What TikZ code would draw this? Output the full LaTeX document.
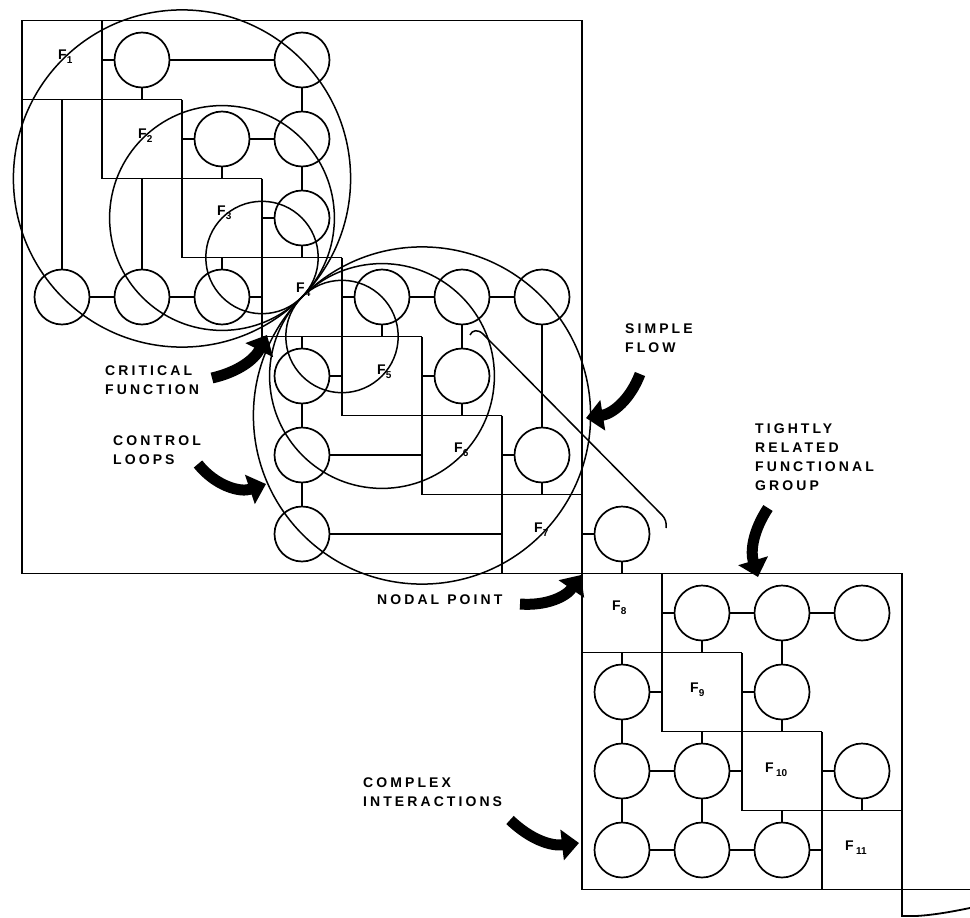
\documentclass[tikz,border=0pt]{standalone}
\usepackage{fontspec}
\newfontfamily\lblfont{Liberation Sans}[LetterSpace=22]
\newfontfamily\ffont{Liberation Sans}
\usetikzlibrary{arrows.meta,calc}
\newcommand{\fsub}[1]{\raisebox{-4pt}{\fontsize{10}{10}\selectfont #1}}
\begin{document}
\begin{tikzpicture}[x=1pt,y=-1pt,
  ln/.style={line width=1.8pt},
  cnode/.style={circle,draw,line width=1.7pt,minimum size=55pt,inner sep=0pt},
  loopc/.style={line width=1.5pt},
  lbl/.style={font=\lblfont\bfseries\fontsize{14}{19}\selectfont, align=left, anchor=north west, inner sep=0pt},
  flab/.style={font=\ffont\bfseries\fontsize{14}{14}\selectfont, anchor=west, inner sep=0pt},
  fat/.style={line width=11pt, -{Triangle[length=17pt,width=30pt]}},
]
\useasboundingbox (0,0) rectangle (970,918);
\fill[white] (0,0) rectangle (970,918);

% grid boundary coordinates
\foreach \k in {1,...,12} {
  \coordinate (X\k) at ({22+80*(\k-1)},0);
  \coordinate (Y\k) at (0,{20.5+79*(\k-1)});
}

% outer boxes
\draw[ln] (22,20.5) rectangle (582,573.5);
\draw[ln] (582,573.5) rectangle (902,889.5);
% continuation at bottom right
\draw[ln] (902,889.5) -- (970,889.5);
\draw[ln] (902,889.5) -- (902,916) -- (916,916) .. controls (935,915) and (955,911) .. (970,908);

% staircase of function blocks
\foreach \k in {1,...,10} {
  \draw[ln] ({22+80*\k},{20.5+79*(\k-1)}) -- ({22+80*\k},{20.5+79*(\k+1)});
  \draw[ln] ({22+80*(\k-1)},{20.5+79*\k}) -- ({22+80*(\k+1)},{20.5+79*\k});
}

% circles
\foreach \i/\j in {2/1,4/1,3/2,4/2,4/3,1/4,2/4,3/4,5/4,6/4,7/4,4/5,6/5,4/6,7/6,4/7,8/7,
                   9/8,10/8,11/8,8/9,10/9,8/10,9/10,11/10,8/11,9/11,10/11}
  \node[cnode,fill=white] (n-\i-\j) at ({62+80*(\i-1)},{60+79*(\j-1)}) {};

% stubs from circles to block edges
\foreach \a/\b/\k in {2/1/2,3/2/3,4/3/4,5/4/5,6/5/6,7/6/7,8/7/8,9/8/9,10/9/10,11/10/11} {
  \draw[ln] (n-\a-\b.west) -- (n-\a-\b.west -| X\k);
  \draw[ln] (n-\a-\b.south) -- (n-\a-\b.south |- Y\k);
}
\foreach \a/\b/\k in {3/4/4,4/5/5,8/9/9,9/10/10,10/11/11} {
  \draw[ln] (n-\a-\b.east) -- (n-\a-\b.east -| X\k);
  \draw[ln] (n-\a-\b.north) -- (n-\a-\b.north |- Y\k);
}
\draw[ln] (n-1-4.north) -- (n-1-4.north |- Y2);
\draw[ln] (n-2-4.north) -- (n-2-4.north |- Y3);
\draw[ln] (n-4-6.east) -- (n-4-6.east -| X6);
\draw[ln] (n-4-7.east) -- (n-4-7.east -| X7);

% circle to circle connectors
\draw[ln] (n-2-1) -- (n-4-1);
\draw[ln] (n-4-1) -- (n-4-2);
\draw[ln] (n-3-2) -- (n-4-2);
\draw[ln] (n-4-2) -- (n-4-3);
\draw[ln] (n-1-4) -- (n-2-4);
\draw[ln] (n-2-4) -- (n-3-4);
\draw[ln] (n-5-4) -- (n-6-4);
\draw[ln] (n-6-4) -- (n-7-4);
\draw[ln] (n-6-4) -- (n-6-5);
\draw[ln] (n-7-4) -- (n-7-6);
\draw[ln] (n-4-5) -- (n-4-6);
\draw[ln] (n-4-6) -- (n-4-7);
\draw[ln] (n-9-8) -- (n-10-8);
\draw[ln] (n-10-8) -- (n-11-8);
\draw[ln] (n-10-8) -- (n-10-9);
\draw[ln] (n-8-9) -- (n-8-10);
\draw[ln] (n-8-10) -- (n-8-11);
\draw[ln] (n-8-10) -- (n-9-10);
\draw[ln] (n-9-10) -- (n-9-11);
\draw[ln] (n-8-11) -- (n-9-11);
\draw[ln] (n-9-11) -- (n-10-11);

% control loops (all touching at F4)
\draw[loopc] (182,178.5) circle[radius=168.6];
\draw[loopc] (222,218) circle[radius=112.4];
\draw[loopc] (262,257.5) circle[radius=56.2];
\draw[loopc] (342,336.5) circle[radius=56.2];
\draw[loopc] (382,376) circle[radius=112.4];
\draw[loopc] (422,415.5) circle[radius=168.6];

% simple flow line
\draw[line width=1.5pt] (470,335) .. controls (472,330) and (478,329) .. (483,334)
  -- (662,515) .. controls (665,518) and (667,523) .. (666,528);

% function labels
\node[flab] (f1) at (58,57) {F\fsub{1}};
\node[flab] (f2) at (138,136) {F\fsub{2}};
\node[flab] (f3) at (217,213) {F\fsub{3}};
\node[flab] (f4) at (296,290) {F\fsub{4}};
\node[flab] (f5) at (377,372) {F\fsub{5}};
\node[flab] (f6) at (454,450) {F\fsub{6}};
\node[flab] (f7) at (534,530) {F\fsub{7}};
\node[flab] (f8) at (612,608) {F\fsub{8}};
\node[flab] (f9) at (690,690) {F\fsub{9}};
\node[flab] (f10) at (765,770) {F\,\fsub{10}};
\node[flab] (f11) at (845,848) {F\,\fsub{11}};

% annotation labels
\node[lbl] (crit) at (105,366) {CRITICAL\\FUNCTION};
\node[lbl] (ctrl) at (113,436) {CONTROL\\LOOPS};
\node[lbl] (simp) at (625,324) {SIMPLE\\FLOW};
\node[lbl] (tight) at (755,424) {TIGHTLY\\RELATED\\FUNCTIONAL\\GROUP};
\node[lbl] (nodal) at (377,595) {NODAL\hspace{8pt}POINT};
\node[lbl] (cplx) at (363,778) {COMPLEX\\INTERACTIONS};

% fat arrows
\coordinate (a1s) at (212,378); \coordinate (a1e) at (267,335);
\coordinate (a2s) at (198,464); \coordinate (a2e) at (266,484);
\coordinate (a3s) at (640,374); \coordinate (a3e) at (586,418);
\coordinate (a4s) at (768,508); \coordinate (a4e) at (758,577);
\coordinate (a5s) at (520,604); \coordinate (a5e) at (581,575);
\coordinate (a6s) at (510,820); \coordinate (a6e) at (579,843);
\draw[fat] (a1s) to[bend right=25] (a1e);
\draw[fat] (a2s) to[bend right=35] (a2e);
\draw[fat] (a3s) to[bend left=30] (a3e);
\draw[fat] (a4s) to[bend right=25] (a4e);
\draw[fat] (a5s) to[bend right=30] (a5e);
\draw[fat] (a6s) to[bend right=25] (a6e);
\end{tikzpicture}
\end{document}
